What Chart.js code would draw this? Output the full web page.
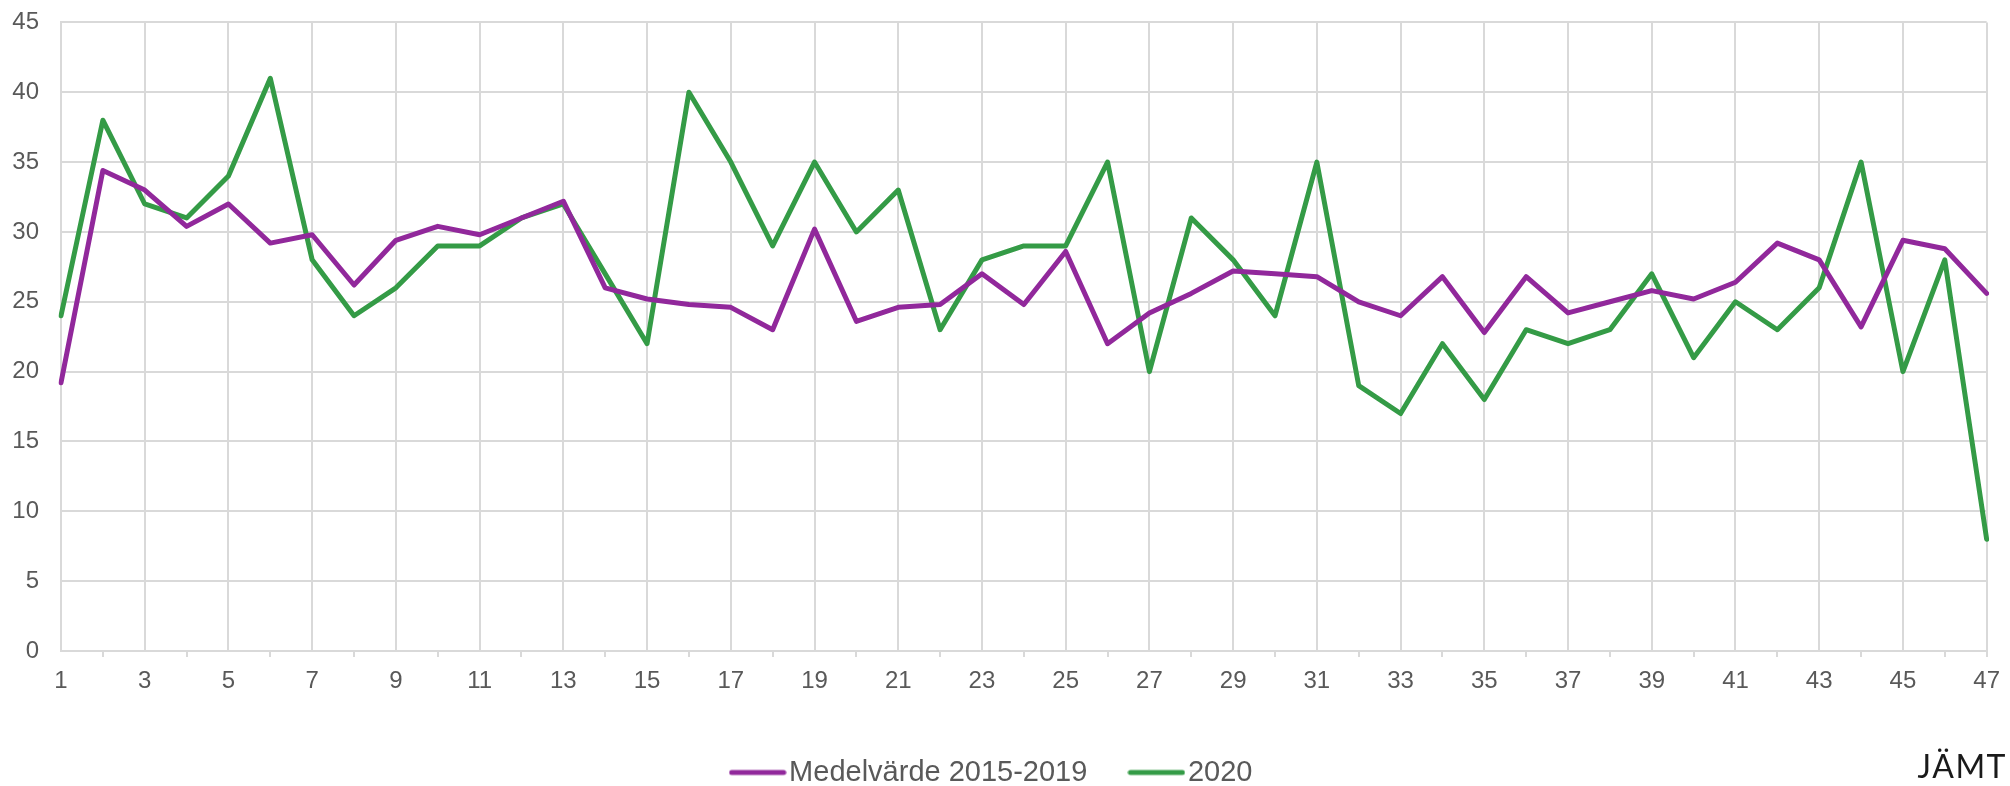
<!DOCTYPE html>
<html lang="sv">
<head>
<meta charset="utf-8">
<title>Medelvärde 2015-2019 och 2020</title>
<script src="https://cdn.jsdelivr.net/npm/chart.js@4/dist/chart.umd.min.js"></script>
<style>
    html, body { margin: 0; padding: 0; background: #fff; }
    #wrap { position: relative; width: 2010px; height: 786px; }
    #logo {
        position: absolute; right: 3px; bottom: 1px;
        font-family: Lato, "Open Sans", sans-serif; font-size: 32px; font-weight: 400;
        letter-spacing: 1.5px; color: #1a1a1a;
    }
</style>
</head>
<body>
<div id="wrap">
    <canvas id="chart" width="2010" height="786"></canvas>
    <div id="logo">JÄMT</div>
</div>
<script>
// --- DATA ---
const weeks = ['1', '2', '3', '4', '5', '6', '7', '8', '9', '10', '11', '12', '13', '14', '15', '16',
    '17', '18', '19', '20', '21', '22', '23', '24', '25', '26', '27', '28', '29', '30', '31', '32',
    '33', '34', '35', '36', '37', '38', '39', '40', '41', '42', '43', '44', '45', '46', '47'];

const average2015to2019 = [19.2, 34.4, 33.0, 30.4, 32.0, 29.2, 29.8, 26.2, 29.4, 30.4, 29.8, 31.0,
    32.2, 26.0, 25.2, 24.8, 24.6, 23.0, 30.2, 23.6, 24.6, 24.8, 27.0, 24.8, 28.6, 22.0, 24.2, 25.6,
    27.2, 27.0, 26.8, 25.0, 24.0, 26.8, 22.8, 26.8, 24.2, 25.0, 25.8, 25.2, 26.4, 29.2, 28.0, 23.2,
    29.4, 28.8, 25.6];

const values2020 = [24, 38, 32, 31, 34, 41, 28, 24, 26, 29, 29, 31, 32, 27, 22, 40, 35, 29, 35, 30,
    33, 23, 28, 29, 29, 35, 20, 31, 28, 24, 35, 19, 17, 22, 18, 23, 22, 23, 27, 21, 25, 23, 26, 35,
    20, 28, 8];

const yTickValues = [0, 5, 10, 15, 20, 25, 30, 35, 40, 45];

const seriesNames = ['Medelvärde 2015-2019', '2020'];

// --- STYLE ---
const purple = '#91289b';
const green = '#349b46';
const gridColor = '#d9d9d9';
const textColor = '#595959';
const fontFamily = '"Liberation Sans", Arial, sans-serif';

/**
 * Legend swatch: a short round-capped line, wider than the legend box
 * so it sits close to its label like in the original.
 */
function legendSwatch(color) {
    const c = document.createElement('canvas');
    c.width = 58;
    c.height = 8;
    const g = c.getContext('2d');
    g.strokeStyle = color;
    g.lineWidth = 5;
    g.lineCap = 'round';
    g.beginPath();
    g.moveTo(3, 4);
    g.lineTo(55, 4);
    g.stroke();
    return c;
}

function lineDataset(label, data, color) {
    return {
        label: label,
        data: data,
        borderColor: color,
        backgroundColor: color,
        borderWidth: 5,
        borderCapStyle: 'round',
        borderJoinStyle: 'round',
        pointRadius: 0,
        pointHoverRadius: 0,
        pointStyle: legendSwatch(color),
        tension: 0,
        fill: false
    };
}

new Chart(document.getElementById('chart').getContext('2d'), {
    type: 'line',
    data: {
        labels: weeks,
        datasets: [
            lineDataset(seriesNames[0], average2015to2019, purple),
            lineDataset(seriesNames[1], values2020, green)
        ]
    },
    options: {
        responsive: false,
        animation: false,
        events: [],
        layout: { padding: { left: 0, right: 17, top: 8, bottom: -11 } },
        scales: {
            x: {
                offset: false,
                border: { color: gridColor, width: 2 },
                grid: {
                    lineWidth: 2,
                    color: ctx => ctx.index % 2 === 0 ? gridColor : 'transparent',
                    tickColor: ctx => (ctx.index % 2 === 1 || ctx.index === weeks.length - 1) ? gridColor : 'transparent',
                    tickLength: 6
                },
                ticks: {
                    autoSkip: false,
                    maxRotation: 0,
                    padding: 10,
                    color: textColor,
                    font: { family: fontFamily, size: 24 },
                    callback: (value, index) => index % 2 === 0 ? weeks[index] : ''
                },
                // the legend's large padding already takes the space under the labels
                afterFit: scale => { scale.height = 55; }
            },
            y: {
                min: 0,
                max: 45,
                border: { color: gridColor, width: 2 },
                // invisible tick marks keep the label gap without padding the top of the plot
                grid: { color: gridColor, lineWidth: 2, tickLength: 14, tickColor: 'transparent' },
                ticks: {
                    padding: 8,
                    color: textColor,
                    font: { family: fontFamily, size: 24 }
                },
                afterBuildTicks: scale => { scale.ticks = yTickValues.map(v => ({ value: v })); },
                afterFit: scale => { scale.width = 61; }
            }
        },
        plugins: {
            legend: {
                position: 'bottom',
                labels: {
                    usePointStyle: true,
                    pointStyleWidth: 34,
                    padding: 52,
                    color: textColor,
                    font: { family: fontFamily, size: 29 }
                }
            },
            tooltip: { enabled: false }
        }
    }
});
</script>
</body>
</html>
